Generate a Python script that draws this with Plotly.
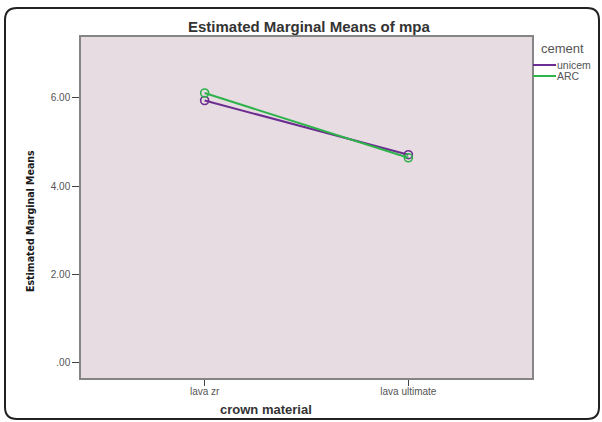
import plotly.graph_objects as go

categories = ["lava zr", "lava ultimate"]
series_names = ["unicem", "ARC"]
unicem = [5.94, 4.71]
arc = [6.11, 4.64]
y_tick_vals = [0, 2, 4, 6]
y_tick_text = [".00", "2.00", "4.00", "6.00"]

colors = ["#6B2D8F", "#2DB34A"]
series = [unicem, arc]

W, H = 602, 422
L, R, T, B = 81, 70, 37, 44

fig = go.Figure()
for name, vals, c in zip(series_names, series, colors):
    fig.add_trace(go.Scatter(
        x=[0, 1], y=vals, mode="lines+markers", name=name,
        line=dict(color=c, width=2),
        marker=dict(symbol="circle-open", size=8, color=c, line=dict(width=1.6, color=c)),
        showlegend=False,
    ))

fig.update_layout(
    width=W, height=H,
    margin=dict(l=L, r=R, t=T, b=B),
    paper_bgcolor="white",
    plot_bgcolor="#E8DCE3",
    font=dict(family="Liberation Sans, Arial, sans-serif", color="#555555", size=10),
    xaxis=dict(
        range=[-0.607, 1.607], tickvals=[0, 1], ticktext=categories,
        showgrid=False, zeroline=False, showline=True, mirror=True,
        linecolor="#858585", linewidth=1.5, ticks="outside", ticklen=6,
        tickcolor="#444444", tickwidth=1, tickfont=dict(size=10, color="#555555"),
        ticklabelstandoff=-3,
    ),
    yaxis=dict(
        range=[-0.354, 7.38], tickvals=y_tick_vals, ticktext=y_tick_text,
        showgrid=False, zeroline=False, showline=True, mirror=True,
        linecolor="#858585", linewidth=1.5, ticks="outside", ticklen=7,
        tickcolor="#444444", tickwidth=1, tickfont=dict(size=10, color="#555555"),
    ),
)

pw, ph = W - L - R, H - T - B
px = lambda v: (v - L) / pw
py = lambda v: 1 - (v - T) / ph

# rounded outer frame (pixel coords converted to paper)
fx0, fy0, fx1, fy1, rad = 5, 8, 599, 419, 12
path = ("M {a},{t} L {b},{t} Q {r},{t} {r},{c} L {r},{d} Q {r},{bt} {b},{bt} "
        "L {a},{bt} Q {l},{bt} {l},{d} L {l},{c} Q {l},{t} {a},{t} Z").format(
    a=px(fx0 + rad), b=px(fx1 - rad), l=px(fx0), r=px(fx1),
    t=py(fy0), bt=py(fy1), c=py(fy0 + rad), d=py(fy1 - rad))
fig.add_shape(type="path", xref="paper", yref="paper", path=path,
              line=dict(color="#222222", width=2), layer="below")

# manual legend
fig.add_annotation(x=px(539), y=py(49), xref="paper", yref="paper", text="cement",
                   showarrow=False, xanchor="left", yanchor="middle",
                   font=dict(size=13, color="#555555"))
for i, (name, c) in enumerate(zip(series_names, colors)):
    yy = 65 + i * 11
    fig.add_shape(type="line", xref="paper", yref="paper",
                  x0=px(533), x1=px(556), y0=py(yy), y1=py(yy),
                  line=dict(color=c, width=2))
    fig.add_annotation(x=px(555), y=py(yy), xref="paper", yref="paper", text=name,
                       showarrow=False, xanchor="left", yanchor="middle",
                       font=dict(size=10.5, color="#555555"))

# title
fig.add_annotation(x=px(309), y=py(26), xref="paper", yref="paper",
                   text="<b>Estimated Marginal Means of mpa</b>", showarrow=False,
                   xanchor="center", yanchor="middle",
                   font=dict(size=15, color="#333333"))
# x title
fig.add_annotation(x=px(266), y=py(409), xref="paper", yref="paper",
                   text="<b>crown material</b>", showarrow=False,
                   xanchor="center", yanchor="middle",
                   font=dict(size=13, color="#333333"))
# y title
fig.add_annotation(x=px(30), y=py(221), xref="paper", yref="paper",
                   text="<b>Estimated Marginal Means</b>", showarrow=False, textangle=-90,
                   xanchor="center", yanchor="middle",
                   font=dict(size=10.5, color="#1a1a1a",
                             family="Liberation Sans Narrow, DejaVu Sans Condensed, sans-serif"))

fig.write_html("out.html", config={"displayModeBar": False},
               post_script="document.body.style.margin='0';document.body.style.overflow='hidden';")
